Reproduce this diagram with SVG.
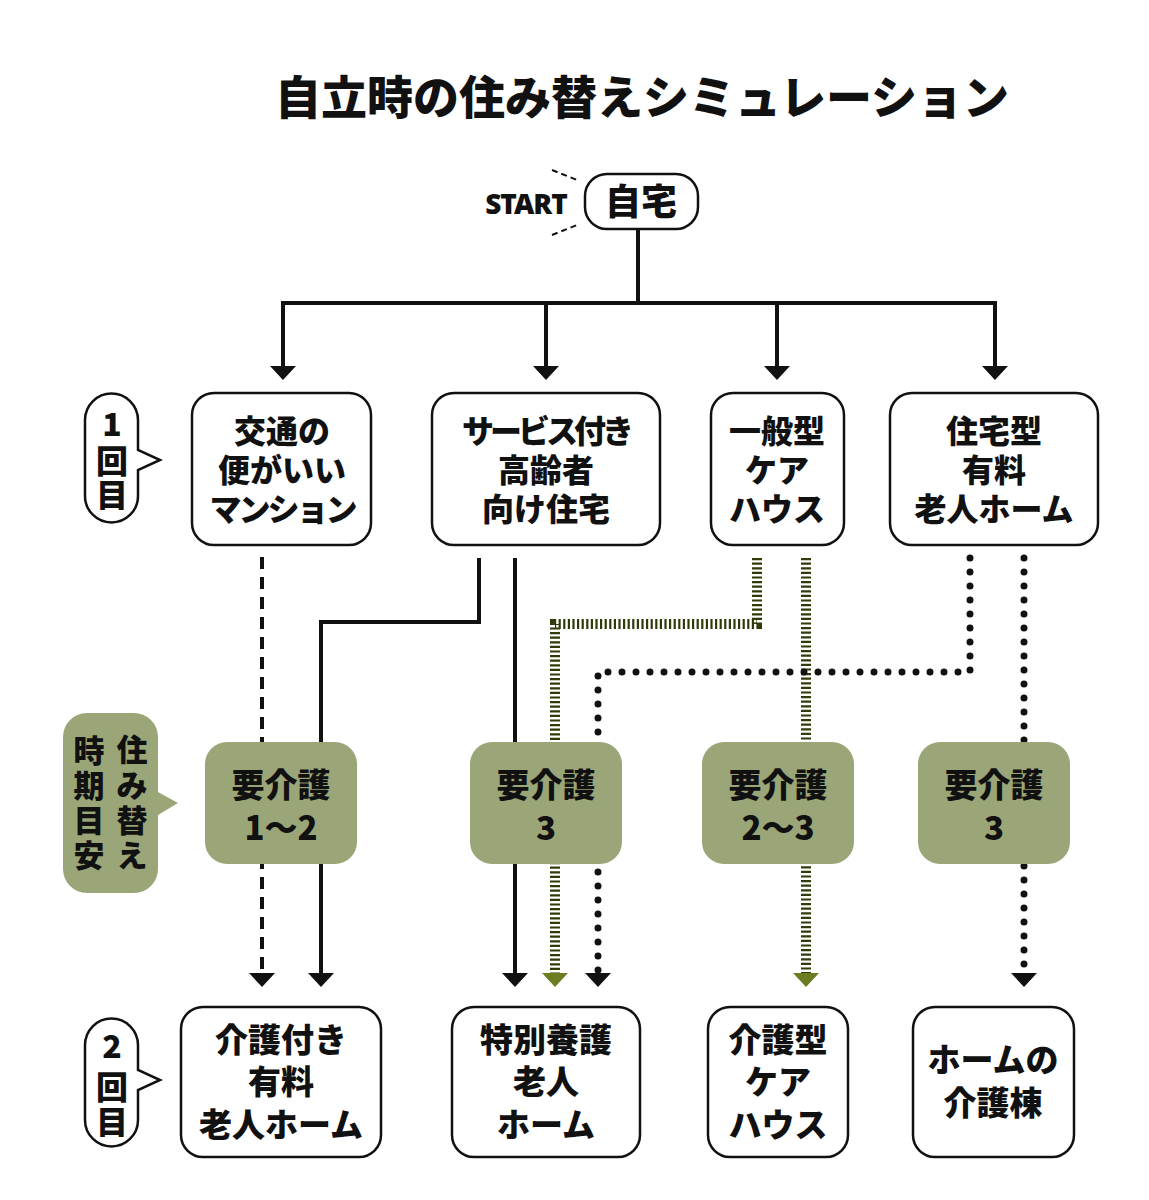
<svg xmlns="http://www.w3.org/2000/svg" width="1149" height="1200" viewBox="0 0 1149 1200">
<style>
text{font-family:"Noto Sans CJK JP","Noto Sans",sans-serif;font-weight:900;fill:#111;text-anchor:middle}
.box{fill:#fff;stroke:#111;stroke-width:2.5}
.g{fill:#9ba678;stroke:none}
.t{font-size:32px}
.t2{font-size:33px}
.lbl{font-size:32px}
.ln{fill:none;stroke:#111;stroke-width:4}
.dash{fill:none;stroke:#111;stroke-width:4;stroke-dasharray:12 8}
.hatch{fill:none;stroke:#2f3c0a;stroke-width:10;stroke-dasharray:2.2 2.4}
.dot{fill:none;stroke:#111;stroke-width:7;stroke-linecap:round;stroke-dasharray:0 14}
</style>
<defs>
<marker id="ab" markerUnits="userSpaceOnUse" viewBox="0 0 14 26" markerWidth="14" markerHeight="26" refX="1" refY="13" orient="auto"><path d="M0,0 L14,13 L0,26 Z" fill="#111"/></marker>
<marker id="ao" markerUnits="userSpaceOnUse" viewBox="0 0 14 26" markerWidth="14" markerHeight="26" refX="1" refY="13" orient="auto"><path d="M0,0 L14,13 L0,26 Z" fill="#6b7d23"/></marker>
</defs>
<rect width="1149" height="1200" fill="#fff"/>

<text x="642" y="114" style="font-size:46px">自立時の住み替えシミュレーション</text>

<g id="start">
<text x="526" y="214" style="font-size:28px;font-family:'Noto Sans','Liberation Sans',sans-serif;font-weight:900" letter-spacing="-1">START</text>
<path d="M552,170 L577,180 M552,235 L577,225" fill="none" stroke="#111" stroke-width="2" stroke-dasharray="6 4"/>
</g>
<g id="home"><rect class="box" x="585" y="174" width="113" height="55" rx="22"/><text x="641" y="215" style="font-size:36px">自宅</text></g>

<g id="connectors">
<path class="ln" d="M638,229 V303 M281,303 H997"/>
<path class="ln" d="M283,303 V367" marker-end="url(#ab)"/>
<path class="ln" d="M546,303 V367" marker-end="url(#ab)"/>
<path class="ln" d="M777,303 V367" marker-end="url(#ab)"/>
<path class="ln" d="M995,303 V367" marker-end="url(#ab)"/>
<path class="dash" d="M262,557 V974" marker-end="url(#ab)"/>
<path class="ln" d="M479,558 V622 H321 V974" marker-end="url(#ab)"/>
<path class="ln" d="M515,558 V974" marker-end="url(#ab)"/>
<path class="hatch" d="M757,558 V624 H555 V974" marker-end="url(#ao)"/>
<path class="hatch" d="M806,558 V974" marker-end="url(#ao)"/>
<path class="dot" d="M970,558 V672 H598 V974" marker-end="url(#ab)"/>
<path class="dot" d="M1024,558 V974" marker-end="url(#ab)"/>
</g>

<g id="label1">
<path class="box" d="M85,420 A26.5,26.5 0 0 1 138,420 V450 L160,460 L138,470 V496 A26.5,26.5 0 0 1 85,496 Z"/>
<text class="lbl" x="112" y="436">1</text><text class="lbl" x="112" y="473">回</text><text class="lbl" x="112" y="507">目</text>
</g>
<g id="label2">
<path class="box" d="M85,1045 A26.5,26.5 0 0 1 138,1045 V1070 L160,1080 L138,1090 V1120 A26.5,26.5 0 0 1 85,1120 Z"/>
<text class="lbl" x="112" y="1058">2</text><text class="lbl" x="112" y="1099">回</text><text class="lbl" x="112" y="1134">目</text>
</g>
<g id="labelTiming">
<path class="g" d="M87,713 H134 A24,24 0 0 1 158,737 V792 L178,803 L158,815 V869 A24,24 0 0 1 134,893 H87 A24,24 0 0 1 63,869 V737 A24,24 0 0 1 87,713 Z"/>
<g style="font-size:31px">
<text x="132" y="761">住</text><text x="132" y="797">み</text><text x="132" y="832">替</text><text x="132" y="867">え</text>
<text x="89" y="762">時</text><text x="89" y="797">期</text><text x="89" y="832">目</text><text x="89" y="867">安</text>
</g>
</g>

<g id="n1"><rect class="box" x="192" y="393" width="179" height="152" rx="22"/>
<text class="t" x="282" y="443">交通の</text><text class="t" x="282" y="482">便がいい</text><text class="t" x="282" y="521" letter-spacing="-3">マンション</text></g>
<g id="n2"><rect class="box" x="432" y="393" width="228" height="152" rx="22"/>
<text class="t" x="546" y="443" letter-spacing="-4">サービス付き</text><text class="t" x="546" y="482">高齢者</text><text class="t" x="546" y="521">向け住宅</text></g>
<g id="n3"><rect class="box" x="711" y="393" width="133" height="152" rx="22"/>
<text class="t" x="777" y="443">一般型</text><text class="t" x="777" y="482">ケア</text><text class="t" x="777" y="521">ハウス</text></g>
<g id="n4"><rect class="box" x="890" y="393" width="208" height="152" rx="22"/>
<text class="t" x="994" y="443">住宅型</text><text class="t" x="994" y="482">有料</text><text class="t" x="994" y="521">老人ホーム</text></g>

<g id="c1"><rect class="g" x="205" y="742" width="152" height="122" rx="22"/>
<text class="t2" x="281" y="797">要介護</text><text class="t2" x="281" y="840">1〜2</text></g>
<g id="c2"><rect class="g" x="470" y="742" width="152" height="122" rx="22"/>
<text class="t2" x="546" y="797">要介護</text><text class="t2" x="546" y="840">3</text></g>
<g id="c3"><rect class="g" x="702" y="742" width="152" height="122" rx="22"/>
<text class="t2" x="778" y="797">要介護</text><text class="t2" x="778" y="840">2〜3</text></g>
<g id="c4"><rect class="g" x="918" y="742" width="152" height="122" rx="22"/>
<text class="t2" x="994" y="797">要介護</text><text class="t2" x="994" y="840">3</text></g>

<g id="m1"><rect class="box" x="181" y="1007" width="200" height="150" rx="22"/>
<text class="t2" x="281" y="1052">介護付き</text><text class="t2" x="281" y="1094">有料</text><text class="t2" x="281" y="1137">老人ホーム</text></g>
<g id="m2"><rect class="box" x="452" y="1007" width="188" height="150" rx="22"/>
<text class="t2" x="546" y="1052">特別養護</text><text class="t2" x="546" y="1094">老人</text><text class="t2" x="546" y="1137">ホーム</text></g>
<g id="m3"><rect class="box" x="708" y="1007" width="140" height="150" rx="22"/>
<text class="t2" x="778" y="1052">介護型</text><text class="t2" x="778" y="1094">ケア</text><text class="t2" x="778" y="1137">ハウス</text></g>
<g id="m4"><rect class="box" x="913" y="1007" width="161" height="150" rx="22"/>
<text class="t2" x="993" y="1072">ホームの</text><text class="t2" x="993" y="1115">介護棟</text></g>
</svg>
